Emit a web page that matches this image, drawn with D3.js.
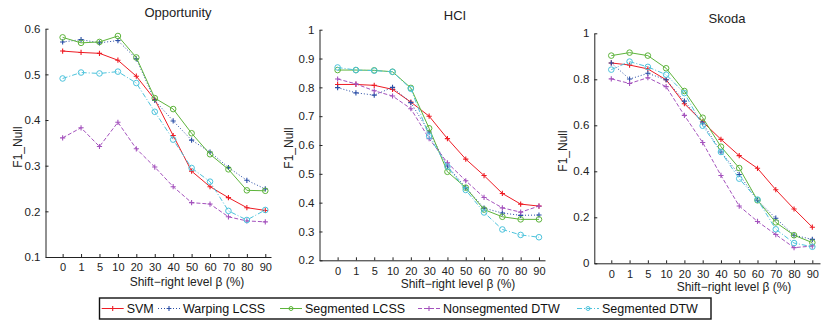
<!DOCTYPE html>
<html>
<head>
<meta charset="utf-8">
<script src="https://cdn.jsdelivr.net/npm/d3@7"></script>
<style>
  body { margin: 0; background: #fff; }
  svg { display: block; font-family: "Liberation Sans", Arial, sans-serif; }
</style>
</head>
<body>
<div id="chart"></div>
<script>
// shift-right levels (x categories)
const shiftLevels = ["0", "1", "5", "10", "20", "30", "40", "50", "60", "70", "80", "90"];
const methodNames = ["SVM", "Warping LCSS", "Segmented LCSS", "Nonsegmented DTW", "Segmented DTW"];

// Opportunity
const oppSVM      = [0.551, 0.548, 0.546, 0.531, 0.496, 0.445, 0.366, 0.288, 0.254, 0.230, 0.208, 0.202];
const oppWarpLCSS = [0.571, 0.576, 0.569, 0.574, 0.534, 0.443, 0.398, 0.356, 0.330, 0.296, 0.268, 0.249];
const oppSegLCSS  = [0.581, 0.569, 0.571, 0.584, 0.537, 0.448, 0.424, 0.371, 0.325, 0.292, 0.246, 0.245];
const oppNonDTW   = [0.361, 0.383, 0.342, 0.395, 0.337, 0.297, 0.254, 0.219, 0.216, 0.188, 0.179, 0.177];
const oppSegDTW   = [0.491, 0.504, 0.502, 0.506, 0.481, 0.418, 0.357, 0.295, 0.265, 0.201, 0.181, 0.203];

// HCI
const hciSVM      = [0.810, 0.810, 0.807, 0.793, 0.749, 0.700, 0.622, 0.551, 0.494, 0.432, 0.395, 0.388];
const hciWarpLCSS = [0.799, 0.781, 0.773, 0.800, 0.747, 0.645, 0.527, 0.452, 0.381, 0.364, 0.356, 0.357];
const hciSegLCSS  = [0.860, 0.860, 0.859, 0.854, 0.798, 0.658, 0.507, 0.452, 0.376, 0.351, 0.342, 0.342];
const hciNonDTW   = [0.829, 0.812, 0.788, 0.770, 0.726, 0.622, 0.538, 0.476, 0.418, 0.382, 0.367, 0.388];
const hciSegDTW   = [0.869, 0.860, 0.858, 0.854, 0.795, 0.631, 0.525, 0.444, 0.366, 0.307, 0.288, 0.280];

// Skoda
const skoSVM      = [0.871, 0.862, 0.845, 0.798, 0.694, 0.615, 0.539, 0.468, 0.413, 0.320, 0.236, 0.157];
const skoWarpLCSS = [0.871, 0.801, 0.826, 0.798, 0.705, 0.610, 0.484, 0.386, 0.274, 0.196, 0.122, 0.104];
const skoSegLCSS  = [0.903, 0.916, 0.903, 0.848, 0.749, 0.633, 0.507, 0.414, 0.274, 0.178, 0.122, 0.090];
const skoNonDTW   = [0.802, 0.782, 0.807, 0.768, 0.643, 0.525, 0.382, 0.249, 0.182, 0.125, 0.068, 0.075];
const skoSegDTW   = [0.842, 0.877, 0.854, 0.820, 0.740, 0.598, 0.484, 0.368, 0.277, 0.148, 0.088, 0.072];

// y tick labels
const oppTicks = [0.1, 0.2, 0.3, 0.4, 0.5, 0.6];
const hciTicks = [0.2, 0.3, 0.4, 0.5, 0.6, 0.7, 0.8, 0.9, 1];
const skoTicks = [0, 0.2, 0.4, 0.6, 0.8, 1];

const styles = [
  { color: "#ee1c24", dash: null,      marker: "plus" },
  { color: "#2a4ea6", dash: "1,2",     marker: "plus" },
  { color: "#5db43b", dash: null,      marker: "circle" },
  { color: "#a452bd", dash: "4,2",     marker: "plus" },
  { color: "#4dc3dc", dash: "5,2,1,2", marker: "circle" }
];

const panels = [
  { title: "Opportunity", series: [oppSVM, oppWarpLCSS, oppSegLCSS, oppNonDTW, oppSegDTW],
    ticks: oppTicks, xlim: [-0.93, 11.31], left: 45.5, right: 271, top: 28.7, bottom: 257,
    titleX: 178, titleY: 17.3, ylabX: 18, ylabY: 147, xlabX: 187, xlabY: 286 },
  { title: "HCI", series: [hciSVM, hciWarpLCSS, hciSegLCSS, hciNonDTW, hciSegDTW],
    ticks: hciTicks, xlim: [-0.99, 11.33], left: 319.5, right: 545, top: 29.7, bottom: 260.3,
    titleX: 455, titleY: 20, ylabX: 289, ylabY: 148, xlabX: 458, xlabY: 287.5 },
  { title: "Skoda", series: [skoSVM, skoWarpLCSS, skoSegLCSS, skoNonDTW, skoSegDTW],
    ticks: skoTicks, xlim: [-0.93, 11.42], left: 594.3, right: 820, top: 33.3, bottom: 263.3,
    titleX: 727, titleY: 22.7, ylabX: 563, ylabY: 151, xlabX: 734, xlabY: 290.5 }
];

const width = 821, height = 322;

const svg = d3.select("#chart").append("svg")
  .attr("width", width)
  .attr("height", height);

function drawMarker(g, kind, cx, cy, color, r) {
  if (kind === "circle") {
    g.append("circle")
      .attr("cx", cx).attr("cy", cy).attr("r", r)
      .attr("fill", "none").attr("stroke", color).attr("stroke-width", 1);
  } else {
    g.append("path")
      .attr("d", `M${cx - r},${cy}H${cx + r}M${cx},${cy - r}V${cy + r}`)
      .attr("stroke", color).attr("stroke-width", 1.1);
  }
}

panels.forEach((p) => {
  const x = d3.scaleLinear().domain(p.xlim).range([p.left, p.right]);
  const y = d3.scaleLinear().domain(d3.extent(p.ticks)).range([p.bottom, p.top]);

  const g = svg.append("g");

  const xAxis = d3.axisBottom(x)
    .tickValues(d3.range(shiftLevels.length))
    .tickFormat((i) => shiftLevels[i])
    .tickSizeInner(-3).tickSizeOuter(0).tickPadding(6.5);

  const yAxis = d3.axisLeft(y)
    .tickValues(p.ticks)
    .tickFormat((v) => String(v))
    .tickSizeInner(-3).tickSizeOuter(0).tickPadding(5);

  g.append("g")
    .attr("transform", `translate(0,${p.bottom})`)
    .call(xAxis)
    .call((a) => a.selectAll("text").attr("font-size", 11).attr("fill", "#222"));

  g.append("g")
    .attr("transform", `translate(${p.left},0)`)
    .call(yAxis)
    .call((a) => a.selectAll("text").attr("font-size", 11.5).attr("fill", "#222"));

  g.selectAll(".domain").attr("stroke", "#222").attr("stroke-width", 1);
  g.selectAll(".tick line").attr("stroke", "#222");

  const line = d3.line()
    .x((d, i) => x(i))
    .y((d) => y(d))
    .curve(d3.curveLinear);

  p.series.forEach((vals, k) => {
    const st = styles[k];
    const sg = g.append("g");
    sg.append("path")
      .datum(vals)
      .attr("d", line)
      .attr("fill", "none")
      .attr("stroke", st.color)
      .attr("stroke-width", 1)
      .attr("stroke-dasharray", st.dash);
    vals.forEach((v, i) => {
      drawMarker(sg, st.marker, x(i), y(v), st.color, st.marker === "circle" ? 2.8 : 2.6);
    });
  });

  g.append("text")
    .attr("x", p.titleX).attr("y", p.titleY)
    .attr("text-anchor", "middle")
    .attr("font-size", 13).attr("fill", "#222")
    .text(p.title);

  g.append("text")
    .attr("transform", `translate(${p.ylabX},${p.ylabY}) rotate(-90)`)
    .attr("text-anchor", "middle")
    .attr("dominant-baseline", "central")
    .attr("font-size", 12).attr("fill", "#222")
    .text("F1_Null");

  g.append("text")
    .attr("x", p.xlabX).attr("y", p.xlabY)
    .attr("text-anchor", "middle")
    .attr("font-size", 12).attr("fill", "#222")
    .text("Shift\u2212right level \u03b2 (%)");
});

// legend
const legendItemX = [101.7, 158, 280, 418, 577];
const legend = svg.append("g");
legend.append("rect")
  .attr("x", 99.5).attr("y", 298)
  .attr("width", 611.5).attr("height", 21)
  .attr("fill", "#fff").attr("stroke", "#111").attr("stroke-width", 1.4);

methodNames.forEach((name, k) => {
  const st = styles[k];
  const lx = legendItemX[k];
  const ly = 308.5;
  legend.append("line")
    .attr("x1", lx).attr("x2", lx + 22)
    .attr("y1", ly).attr("y2", ly)
    .attr("stroke", st.color).attr("stroke-width", 1)
    .attr("stroke-dasharray", st.dash);
  drawMarker(legend, st.marker, lx + 11, ly, st.color, st.marker === "circle" ? 2 : 2.4);
  legend.append("text")
    .attr("x", lx + 25).attr("y", ly)
    .attr("dominant-baseline", "central")
    .attr("font-size", 12.5).attr("fill", "#111")
    .text(name);
});
</script>
</body>
</html>
